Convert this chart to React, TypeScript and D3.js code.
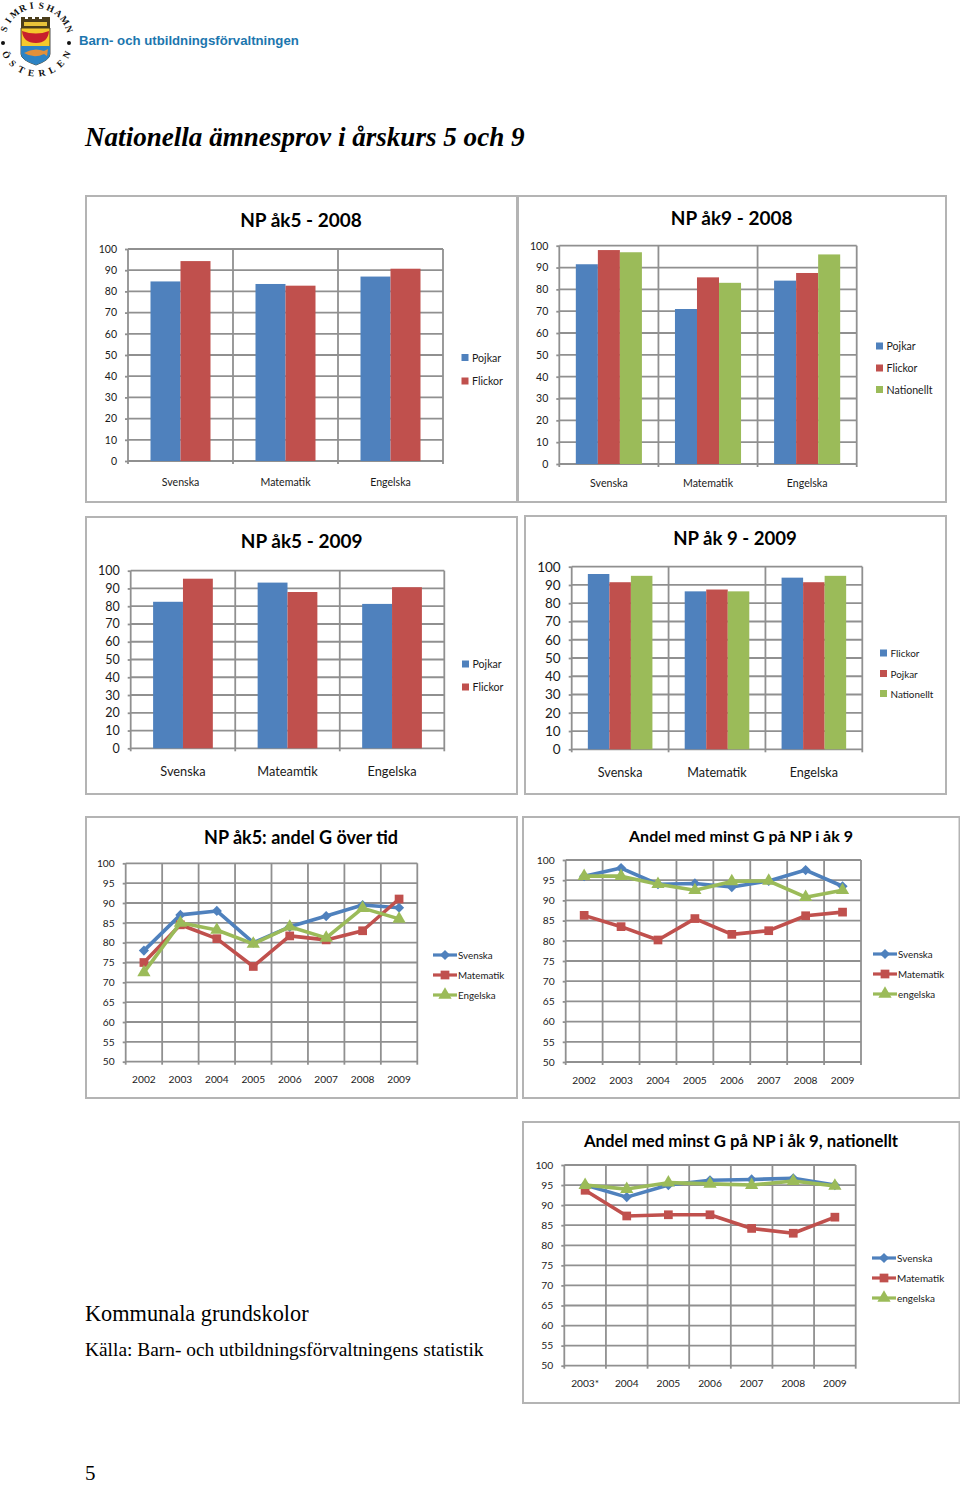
import { useEffect, useRef } from "react"
import * as d3 from "d3"

const BLUE = "#4f81bd"
const RED = "#c0504d"
const GREEN = "#9bbb59"
const GRID = "#909090"
const FONT = "Lato, Carlito, sans-serif"

// bar charts
const subjects = ["Svenska", "Matematik", "Engelska"]
const subjects09 = ["Svenska", "Mateamtik", "Engelska"]

const barSeries2Labels = ["Pojkar", "Flickor"]
const barSeries3Labels = ["Pojkar", "Flickor", "Nationellt"]
const barSeries3Labels09 = ["Flickor", "Pojkar", "Nationellt"]

const ak5_2008_pojkar = [84.7, 83.5, 87]
const ak5_2008_flickor = [94.3, 82.7, 90.7]

const ak9_2008_pojkar = [91.5, 71, 84]
const ak9_2008_flickor = [98, 85.5, 87.5]
const ak9_2008_nat = [97, 83, 96]

const ak5_2009_pojkar = [82.5, 93.3, 81.3]
const ak5_2009_flickor = [95.5, 88, 90.7]

const ak9_2009_flickor = [96, 86.5, 94]
const ak9_2009_pojkar = [91.5, 87.5, 91.5]
const ak9_2009_nat = [95, 86.5, 95]

// line charts
const years = ["2002", "2003", "2004", "2005", "2006", "2007", "2008", "2009"]
const yearsNat = ["2003*", "2004", "2005", "2006", "2007", "2008", "2009"]
const lineLabels = ["Svenska", "Matematik", "Engelska"]
const lineLabelsLower = ["Svenska", "Matematik", "engelska"]

const g5_svenska = [78, 87, 88, 80, 84, 86.7, 89.5, 88.8]
const g5_matematik = [75, 84.5, 81, 74, 81.7, 80.7, 83, 91]
const g5_engelska = [72.5, 85, 83.2, 79.7, 84, 81.2, 88.7, 86]

const g9_svenska = [96, 98, 94, 94.2, 93.3, 94.8, 97.5, 93.5]
const g9_matematik = [86.3, 83.5, 80.2, 85.5, 81.6, 82.5, 86.2, 87.1]
const g9_engelska = [96, 96, 94, 92.5, 94.7, 94.8, 90.8, 92.5]

const nat_svenska = [95, 92, 95, 96.2, 96.4, 96.7, 95]
const nat_matematik = [93.7, 87.3, 87.6, 87.6, 84.2, 83, 87]
const nat_engelska = [95, 94, 95.6, 95.3, 95, 96, 94.8]

const barTicks = d3.range(0, 101, 10)
const lineTicks = d3.range(50, 101, 5)

const colors = [BLUE, RED, GREEN]
const symbols = [d3.symbolDiamond2, d3.symbolSquare, d3.symbolTriangle]
const symbolSizes = [66, 76, 76]

function drawFrame(svg, box) {
  svg.append("rect")
    .attr("x", box.x0).attr("y", box.y0)
    .attr("width", box.x1 - box.x0).attr("height", box.y1 - box.y0)
    .attr("fill", "white").attr("stroke", "#b4b4b4").attr("stroke-width", 2)
}

function drawTitle(svg, c) {
  svg.append("text")
    .attr("x", c.titleX).attr("y", c.titleY - 1)
    .attr("text-anchor", "middle").attr("dominant-baseline", "central")
    .attr("font-family", FONT).attr("font-weight", 700)
    .attr("font-size", c.titleSize).attr("fill", "#000")
    .text(c.title)
}

// grid, axes and labels are the same for both chart types
function drawAxes(svg, c, x, y, ticks) {
  const g = svg.append("g")
  const edges = [...x.domain().map((d) => x(d)), x.range()[1]]

  g.selectAll(".h").data(ticks).enter().append("line")
    .attr("x1", c.left).attr("x2", c.right)
    .attr("y1", (d) => y(d)).attr("y2", (d) => y(d))
    .attr("stroke", GRID).attr("stroke-width", 1.8)

  g.selectAll(".v").data(edges).enter().append("line")
    .attr("x1", (d) => d).attr("x2", (d) => d)
    .attr("y1", c.top).attr("y2", c.bottom + 3)
    .attr("stroke", GRID).attr("stroke-width", 1.8)

  const left = svg.append("g")
    .attr("transform", `translate(${c.left},0)`)
    .call(d3.axisLeft(y).tickValues(ticks).tickSize(3).tickPadding(8))
  left.select(".domain").remove()
  left.selectAll("line").attr("stroke", GRID).attr("stroke-width", 1.8)
  left.selectAll("text")
    .attr("font-family", FONT).attr("font-size", c.yFont).attr("fill", "#1a1a1a")

  const bottom = svg.append("g")
    .attr("transform", `translate(0,${c.bottom})`)
    .call(d3.axisBottom(x).tickSize(0).tickPadding(c.labelGap - c.xFont * 0.35))
  bottom.select(".domain").remove()
  bottom.selectAll("text")
    .attr("font-family", FONT).attr("font-size", c.xFont).attr("fill", "#1a1a1a")
}

function drawBarChart(svg, c) {
  drawFrame(svg, c.box)
  drawTitle(svg, c)

  const x = d3.scaleBand().domain(c.categories).range([c.left, c.right])
  const y = d3.scaleLinear().domain([0, 100]).range([c.bottom, c.top])
  const inner = d3.scaleBand()
    .domain(d3.range(c.series.length))
    .range([0, x.bandwidth()])
    .paddingInner(0)
    .paddingOuter(0.75)

  // gridlines sit under the bars
  drawAxes(svg, c, x, y, barTicks)

  c.series.forEach((values, i) => {
    svg.append("g").selectAll("rect").data(values).enter().append("rect")
      .attr("x", (d, j) => x(c.categories[j]) + inner(i))
      .attr("y", (d) => y(d))
      .attr("width", inner.bandwidth())
      .attr("height", (d) => y(0) - y(d))
      .attr("fill", colors[i])
  })

  c.labels.forEach((label, i) => {
    svg.append("rect")
      .attr("x", c.legendX).attr("y", c.legendY[i] - 3.5)
      .attr("width", 7).attr("height", 7).attr("fill", colors[i])
    svg.append("text")
      .attr("x", c.legendX + 10.5).attr("y", c.legendY[i])
      .attr("dominant-baseline", "central")
      .attr("font-family", FONT).attr("font-size", c.legendFont).attr("fill", "#1a1a1a")
      .text(label)
  })
}

function drawLineChart(svg, c) {
  drawFrame(svg, c.box)
  drawTitle(svg, c)

  const x = d3.scaleBand().domain(c.categories).range([c.left, c.right])
  const y = d3.scaleLinear().domain([50, 100]).range([c.bottom, c.top])
  const cx = (j) => x(c.categories[j]) + x.bandwidth() / 2

  drawAxes(svg, c, x, y, lineTicks)

  const line = d3.line<number>().x((d, j) => cx(j)).y((d) => y(d))

  c.series.forEach((values, i) => {
    svg.append("path")
      .attr("d", line(values))
      .attr("fill", "none").attr("stroke", colors[i])
      .attr("stroke-width", 3.6).attr("stroke-linejoin", "round")
    svg.append("g").selectAll("path").data(values).enter().append("path")
      .attr("d", d3.symbol().type(symbols[i]).size(symbolSizes[i]))
      .attr("transform", (d, j) => `translate(${cx(j)},${y(d)})`)
      .attr("fill", colors[i])
  })

  c.labels.forEach((label, i) => {
    const ly = c.legendY[i]
    svg.append("line")
      .attr("x1", c.legendX).attr("x2", c.legendX + 24)
      .attr("y1", ly).attr("y2", ly)
      .attr("stroke", colors[i]).attr("stroke-width", 3.2)
    svg.append("path")
      .attr("d", d3.symbol().type(symbols[i]).size(symbolSizes[i]))
      .attr("transform", `translate(${c.legendX + 12},${ly})`)
      .attr("fill", colors[i])
    svg.append("text")
      .attr("x", c.legendX + 25).attr("y", ly)
      .attr("dominant-baseline", "central")
      .attr("font-family", FONT).attr("font-size", c.legendFont).attr("fill", "#1a1a1a")
      .text(label)
  })
}

function drawLogo(svg) {
  const cx = 36.5
  const cy = 39.5
  const r = 34
  const g = svg.append("g")
    .attr("font-family", "Liberation Serif").attr("font-weight", 700)
    .attr("font-size", 9.5).attr("fill", "#111").attr("text-anchor", "middle")

  const top = "SIMRISHAMN".split("")
  const topAngle = d3.scaleLinear().domain([0, top.length - 1]).range([-72, 72])
  top.forEach((ch, i) => {
    const a = topAngle(i)
    const t = (a * Math.PI) / 180
    g.append("text")
      .attr("transform", `translate(${cx + r * Math.sin(t)},${cy - r * Math.cos(t)}) rotate(${a})`)
      .attr("dominant-baseline", "central")
      .text(ch)
  })

  const bottom = "ÖSTERLEN".split("")
  const bottomAngle = d3.scaleLinear().domain([0, bottom.length - 1]).range([-63, 63])
  bottom.forEach((ch, i) => {
    const a = bottomAngle(i)
    const t = (a * Math.PI) / 180
    g.append("text")
      .attr("transform", `translate(${cx + r * Math.sin(t)},${cy + r * Math.cos(t)}) rotate(${-a})`)
      .attr("dominant-baseline", "central")
      .text(ch)
  })

  svg.append("circle").attr("cx", 3).attr("cy", 43).attr("r", 2).attr("fill", "#111")
  svg.append("circle").attr("cx", 69).attr("cy", 43).attr("r", 2).attr("fill", "#111")

  // shield
  const shield = "M21,28 L50,28 L50,54 Q50,60 36,65 Q21,60 21,54 Z"
  svg.append("path").attr("d", shield).attr("fill", "#f5c92c").attr("stroke", "#222").attr("stroke-width", 0.8)
  svg.append("path").attr("d", "M21,46 L50,46 L50,54 Q50,60 36,65 Q21,60 21,54 Z").attr("fill", "#2d83c4")
  svg.append("path").attr("d", "M22,31 Q36,36 49,31 Q48,43 36,43 Q23,43 22,31 Z").attr("fill", "#c8202c")
  svg.append("path").attr("d", "M24,53 Q34,47 44,51 L48,49 L47,56 L44,54 Q34,59 24,53 Z").attr("fill", "#e2903a")
  svg.append("path").attr("d", "M21,17 h4 v2 h3 v-2 h4 v2 h3 v-2 h4 v2 h3 v-2 h4 h4 v11 h-29 Z").attr("fill", "#4a3d1a")
  svg.append("rect").attr("x", 24).attr("y", 22).attr("width", 23).attr("height", 4).attr("fill", "#e8c33a")
}

const charts = [
  {
    type: "bar", title: "NP åk5 - 2008", categories: subjects,
    series: [ak5_2008_pojkar, ak5_2008_flickor], labels: barSeries2Labels,
    box: { x0: 86, y0: 196, x1: 517, y1: 502 },
    left: 128, right: 443, top: 249, bottom: 461,
    titleX: 301, titleY: 220, titleSize: 19, yFont: 10.5, xFont: 10.6, labelGap: 21,
    legendX: 461.5, legendY: [357.5, 381], legendFont: 10.6,
  },
  {
    type: "bar", title: "NP åk9 - 2008", categories: subjects,
    series: [ak9_2008_pojkar, ak9_2008_flickor, ak9_2008_nat], labels: barSeries3Labels,
    box: { x0: 518, y0: 196, x1: 946, y1: 502 },
    left: 559.3, right: 856.7, top: 245.7, bottom: 464,
    titleX: 731.7, titleY: 218, titleSize: 19, yFont: 10.5, xFont: 10.6, labelGap: 19,
    legendX: 876, legendY: [346, 368, 389.5], legendFont: 10.6,
  },
  {
    type: "bar", title: "NP åk5 - 2009", categories: subjects09,
    series: [ak5_2009_pojkar, ak5_2009_flickor], labels: barSeries2Labels,
    box: { x0: 86, y0: 517, x1: 517, y1: 794 },
    left: 130.7, right: 444.3, top: 570.7, bottom: 748.3,
    titleX: 301.7, titleY: 541.7, titleSize: 19, yFont: 12.5, xFont: 12.8, labelGap: 23,
    legendX: 462, legendY: [664, 687], legendFont: 10.6,
  },
  {
    type: "bar", title: "NP åk 9 - 2009", categories: subjects,
    series: [ak9_2009_flickor, ak9_2009_pojkar, ak9_2009_nat], labels: barSeries3Labels09,
    box: { x0: 525, y0: 516, x1: 946, y1: 794 },
    left: 571.7, right: 862.3, top: 566.7, bottom: 749.3,
    titleX: 735, titleY: 539, titleSize: 18.6, yFont: 13.5, xFont: 12.6, labelGap: 23,
    legendX: 880, legendY: [653, 673.5, 693.5], legendFont: 9.9,
  },
  {
    type: "line", title: "NP åk5: andel G över tid", categories: years,
    series: [g5_svenska, g5_matematik, g5_engelska], labels: lineLabels,
    box: { x0: 86, y0: 817, x1: 517, y1: 1098 },
    left: 125.7, right: 417.3, top: 863.3, bottom: 1061.7,
    titleX: 301, titleY: 838, titleSize: 18, yFont: 10.2, xFont: 10.2, labelGap: 18,
    legendX: 433, legendY: [955, 975, 995], legendFont: 9.8,
  },
  {
    type: "line", title: "Andel med minst G på NP i åk 9", categories: years,
    series: [g9_svenska, g9_matematik, g9_engelska], labels: lineLabelsLower,
    box: { x0: 523, y0: 817, x1: 959.5, y1: 1098 },
    left: 565.7, right: 861, top: 860, bottom: 1062,
    titleX: 741, titleY: 836, titleSize: 16, yFont: 10.3, xFont: 10.2, labelGap: 18,
    legendX: 873, legendY: [954, 974, 994], legendFont: 9.8,
  },
  {
    type: "line", title: "Andel med minst G på NP i åk 9, nationellt", categories: yearsNat,
    series: [nat_svenska, nat_matematik, nat_engelska], labels: lineLabelsLower,
    box: { x0: 523, y0: 1122, x1: 959.5, y1: 1403 },
    left: 564.3, right: 855.7, top: 1165, bottom: 1365.7,
    titleX: 741, titleY: 1141, titleSize: 16.8, yFont: 10.3, xFont: 10.2, labelGap: 18,
    legendX: 872, legendY: [1258, 1278, 1298], legendFont: 10,
  },
]

export default function App() {
  const svgRef = useRef<SVGSVGElement | null>(null)

  useEffect(() => {
    if (!svgRef.current) return
    const svg = d3.select(svgRef.current)
    svg.selectAll("*").remove()

    drawLogo(svg)

    svg.append("text")
      .attr("x", 79).attr("y", 45)
      .attr("font-family", "Liberation Sans").attr("font-weight", 700)
      .attr("font-size", 13.2).attr("fill", "#1c76ae")
      .text("Barn- och utbildningsförvaltningen")

    svg.append("text")
      .attr("x", 85).attr("y", 146)
      .attr("font-family", "Liberation Serif").attr("font-weight", 700).attr("font-style", "italic")
      .attr("font-size", 27.1).attr("fill", "#000")
      .text("Nationella ämnesprov i årskurs 5 och 9")

    charts.forEach((c) => {
      if (c.type === "bar") drawBarChart(svg, c)
      else drawLineChart(svg, c)
    })

    svg.append("text")
      .attr("x", 85).attr("y", 1321)
      .attr("font-family", "Liberation Serif").attr("font-size", 22.3).attr("fill", "#000")
      .text("Kommunala grundskolor")

    svg.append("text")
      .attr("x", 85).attr("y", 1356)
      .attr("font-family", "Liberation Serif").attr("font-size", 19.4).attr("fill", "#000")
      .text("Källa: Barn- och utbildningsförvaltningens statistik")

    svg.append("text")
      .attr("x", 85).attr("y", 1480)
      .attr("font-family", "Liberation Serif").attr("font-size", 21).attr("fill", "#000")
      .text("5")
  }, [])

  return (
    <svg
      ref={svgRef}
      width={960}
      height={1485}
      style={{ position: "absolute", left: 0, top: 0, background: "white" }}
    />
  )
}
